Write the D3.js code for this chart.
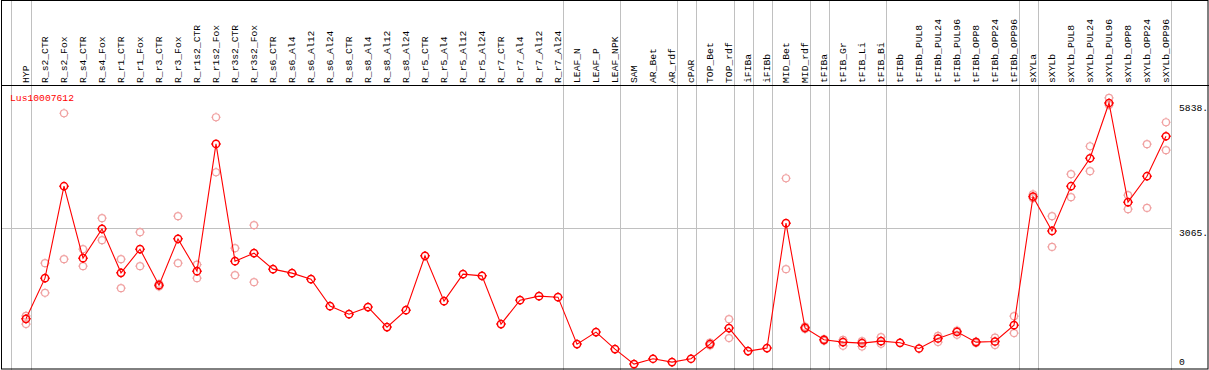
<!DOCTYPE html>
<html>
<head>
<meta charset="utf-8">
<script src="https://cdn.jsdelivr.net/npm/d3@7"></script>
<style>
    body { margin: 0; background: #fff; }
    svg { display: block; }
    text { font-family: "Liberation Mono", "DejaVu Sans Mono", monospace; font-size: 9.7px; }
</style>
</head>
<body>
<svg width="1209" height="370"></svg>
<script>
(() => {

    const geneId = 'Lus10007612';

    const samples = [
        'HYP', 'R_s2_CTR', 'R_s2_Fox', 'R_s4_CTR', 'R_s4_Fox', 'R_r1_CTR', 'R_r1_Fox',
        'R_r3_CTR', 'R_r3_Fox', 'R_r1s2_CTR', 'R_r1s2_Fox', 'R_r3s2_CTR', 'R_r3s2_Fox',
        'R_s6_CTR', 'R_s6_Al4', 'R_s6_Al12', 'R_s6_Al24', 'R_s8_CTR', 'R_s8_Al4',
        'R_s8_Al12', 'R_s8_Al24', 'R_r5_CTR', 'R_r5_Al4', 'R_r5_Al12', 'R_r5_Al24',
        'R_r7_CTR', 'R_r7_Al4', 'R_r7_Al12', 'R_r7_Al24', 'LEAF_N', 'LEAF_P', 'LEAF_NPK',
        'SAM', 'AR_Bet', 'AR_rdf', 'cPAR', 'TOP_Bet', 'TOP_rdf', 'iFIBa', 'iFIBb',
        'MID_Bet', 'MID_rdf', 'tFIBa', 'tFIB_Gr', 'tFIB_Li', 'tFIB_Bi', 'tFIBb',
        'tFIBb_PUL8', 'tFIBb_PUL24', 'tFIBb_PUL96', 'tFIBb_OPP8', 'tFIBb_OPP24', 'tFIBb_OPP96',
        'sXYLa', 'sXYLb', 'sXYLb_PUL8', 'sXYLb_PUL24', 'sXYLb_PUL96', 'sXYLb_OPP8',
        'sXYLb_OPP24', 'sXYLb_OPP96'
    ];

    // number of samples in each block between the grey separators
    const groupSizes = [1, 28, 3, 3, 1, 2, 1, 1, 2, 1, 3, 7, 1, 7];

    const means = [
        1047, 1950, 3991, 2394, 3044, 2068, 2593, 1795, 2822, 2105, 4929, 2327, 2505,
        2150, 2061, 1928, 1329, 1151, 1307, 863, 1240, 2445, 1440, 2039, 2001,
        930, 1462, 1551, 1528, 486, 752, 375,
        42, 160, 87, 160, 486, 841, 331, 397, 3170, 847,
        581, 530, 508, 552, 515, 388, 610, 759, 530, 544, 907,
        3760, 2999, 3991, 4612, 5838, 3636, 4213, 5100
    ];

    const repA = [
        1114, 2283, 5610, 2593, 3281, 2371, 2970, 1824, 3325, 2252, 5522, 2615, 3126,
        null, null, null, null, null, null, null, null, null, null, null, null,
        null, null, null, null, null, null, null,
        null, null, null, null, 517, 1040, null, null, 4168, 876,
        597, 581, 552, 641, null, null, 670, 788, 544, 632, 1107,
        3813, 3325, 4257, 4878, 5950, 3791, 4923, 5411
    ];

    const repB = [
        930, 1624, 2371, 2216, 2793, 1728, 2216, 1764, 2283, 1950, 4301, 2017, 1861,
        null, null, null, null, null, null, null, null, null, null, null, null,
        null, null, null, null, null, null, null,
        null, null, null, null, 455, 619, null, null, 2150, 819,
        559, 448, 433, 492, null, null, 530, 692, 508, 464, 730,
        3725, 2644, 3747, 4324, 5794, 3481, 3509, 4790
    ];

    const yTicks = [0, 3065, 5838];

    const svg = d3.select('svg'),
            width = +svg.attr('width'),
            height = +svg.attr('height');

    const headerBottom = 85;
    const plotRight = 1170;

    const x = d3.scalePoint()
            .domain(samples)
            .range([26, 1166]);

    const y = d3.scaleLinear()
            .domain([0, 5838])
            .range([366, 103]);

    const grey = '#c0c0c0';

    // separators: one before the first sample, then after every block
    const sepIdx = [-1];
    groupSizes.reduce((acc, n) => {
        sepIdx.push(acc + n - 1);
        return acc + n;
    }, 0);

    const sepX = i => i < 0 ? x(samples[0]) - 15.3 : x(samples[i]) + 4.7;

    const grid = svg.append('g').attr('class', 'grid');

    grid.selectAll('line.v')
            .data(sepIdx)
            .enter().append('line')
            .attr('class', 'v')
            .attr('x1', d => Math.round(sepX(d)) + 0.5)
            .attr('x2', d => Math.round(sepX(d)) + 0.5)
            .attr('y1', 0)
            .attr('y2', height)
            .attr('stroke', grey);

    grid.append('line')
            .attr('x1', 2)
            .attr('x2', plotRight + 2)
            .attr('y1', Math.round(y(3065)) + 0.5)
            .attr('y2', Math.round(y(3065)) + 0.5)
            .attr('stroke', grey);

    // frame
    const frame = svg.append('g').attr('stroke', '#000').attr('fill', 'none');
    frame.append('rect')
            .attr('x', 1.5)
            .attr('y', 0.5)
            .attr('width', width - 2.5)
            .attr('height', height - 1.5);
    frame.append('line')
            .attr('x1', 1)
            .attr('x2', width)
            .attr('y1', headerBottom + 0.5)
            .attr('y2', headerBottom + 0.5);

    // rotated sample labels
    svg.append('g')
            .selectAll('text')
            .data(samples)
            .enter().append('text')
            .attr('transform', d => `translate(${x(d)},${headerBottom - 2}) rotate(-90)`)
            .attr('dy', '0.35em')
            .attr('fill', '#000')
            .text(d => d);

    // value labels on the right
    svg.append('g')
            .selectAll('text')
            .data(yTicks)
            .enter().append('text')
            .attr('x', plotRight + 9)
            .attr('y', d => d === 0 ? y(d) - 1 : y(d) + 8)
            .attr('fill', '#000')
            .text(d => d === 0 ? '0' : d + '.');

    svg.append('text')
            .attr('x', 10)
            .attr('y', 101)
            .attr('fill', '#ff0000')
            .text(geneId);

    // circle with little stubs at the four compass points
    const markerPath = r => {
        const p = d3.path();
        p.moveTo(r, 0);
        p.arc(0, 0, r, 0, 2 * Math.PI);
        p.moveTo(0, -r); p.lineTo(0, -r - 1.2);
        p.moveTo(0, r); p.lineTo(0, r + 1.2);
        p.moveTo(-r, 0); p.lineTo(-r - 1.2, 0);
        p.moveTo(r, 0); p.lineTo(r + 1.2, 0);
        return p.toString();
    };

    const reps = [];
    samples.forEach((s, i) => {
        [repA[i], repB[i]].forEach(v => {
            if (v !== null) reps.push({ sample: s, value: v });
        });
    });

    svg.append('g')
            .selectAll('path')
            .data(reps)
            .enter().append('path')
            .attr('d', markerPath(3.5))
            .attr('transform', d => `translate(${x(d.sample)},${y(d.value)})`)
            .attr('fill', 'none')
            .attr('stroke', '#f0a0a0')
            .attr('stroke-width', 1.2);

    const line = d3.line()
            .x((d, i) => x(samples[i]))
            .y(d => y(d));

    svg.append('path')
            .datum(means)
            .attr('d', line)
            .attr('fill', 'none')
            .attr('stroke', '#ff0000')
            .attr('stroke-width', 1.1);

    svg.append('g')
            .selectAll('path')
            .data(means)
            .enter().append('path')
            .attr('d', markerPath(3.6))
            .attr('transform', (d, i) => `translate(${x(samples[i])},${y(d)})`)
            .attr('fill', 'none')
            .attr('stroke', '#ff0000')
            .attr('stroke-width', 1.5);

})();
</script>
</body>
</html>
